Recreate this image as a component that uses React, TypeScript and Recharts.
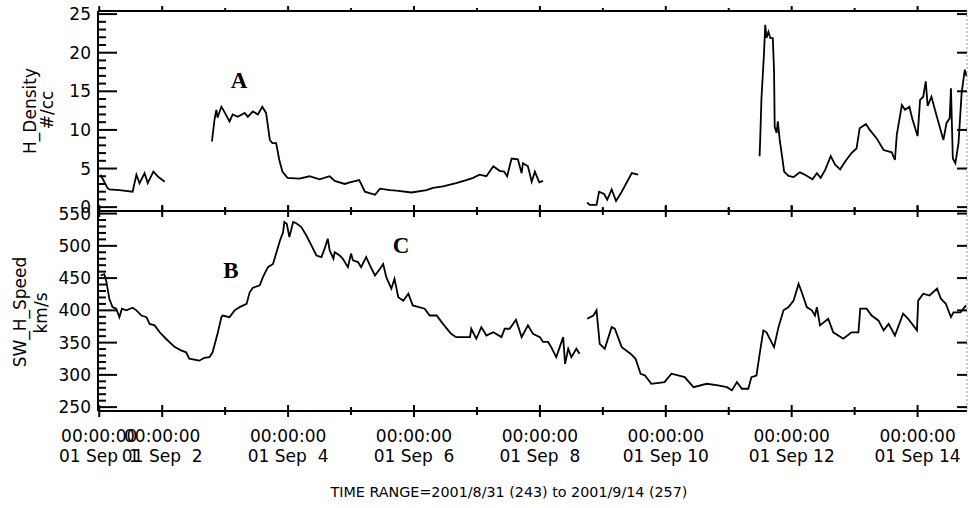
import React from "react";
import { LineChart, Line, XAxis, YAxis } from "recharts";

const FONT = "'DejaVu Sans', sans-serif";

// H_Density (#/cc) as [day of Sep 2001, value]; one array per data run
const densityRun1: [number, number][] = [
  [1.02, 4.2], [1.13, 2.5], [1.16, 2.3], [1.32, 2.2], [1.53, 2.0], [1.59, 4.2],
  [1.64, 3.1], [1.72, 4.4], [1.77, 3.1], [1.86, 4.6], [1.94, 3.9], [2.04, 3.3],
];
const densityRun2: [number, number][] = [
  [2.79, 8.5], [2.83, 11.3], [2.86, 12.6], [2.88, 11.6], [2.94, 13.0], [2.97, 12.6],
  [3.07, 11.1], [3.12, 12.0], [3.2, 11.7], [3.31, 12.2], [3.36, 11.7], [3.44, 12.4],
  [3.52, 12.0], [3.59, 13.0], [3.65, 12.2], [3.71, 8.7], [3.75, 8.3], [3.81, 8.3],
  [3.86, 6.1], [3.91, 4.6], [3.99, 3.8], [4.18, 3.7], [4.34, 4.0], [4.5, 3.6],
  [4.66, 4.0], [4.74, 3.4], [4.9, 3.0], [4.98, 3.2], [5.13, 3.5], [5.22, 2.0],
  [5.38, 1.6], [5.46, 2.4], [5.62, 2.2], [5.72, 2.15], [5.96, 1.9], [6.2, 2.2],
  [6.3, 2.5], [6.46, 2.7], [6.67, 3.1], [6.83, 3.5], [6.94, 3.8], [7.04, 4.2],
  [7.15, 4.0], [7.26, 5.3], [7.36, 4.7], [7.43, 4.6], [7.48, 4.0], [7.55, 6.3],
  [7.65, 6.2], [7.71, 4.4], [7.73, 5.7], [7.81, 5.3], [7.87, 3.3], [7.92, 4.6],
  [7.99, 3.2], [8.05, 3.4],
];
const densityRun3: [number, number][] = [
  [8.75, 0.6], [8.79, 0.3], [8.9, 0.3], [8.94, 2.0], [9.02, 1.7], [9.07, 0.95],
  [9.14, 2.3], [9.21, 0.8], [9.3, 2.0], [9.46, 4.4], [9.56, 4.2],
];
const densityRun4: [number, number][] = [
  [11.49, 6.6], [11.5, 8.9], [11.52, 14.1], [11.56, 19.9], [11.58, 23.6], [11.6, 21.9],
  [11.63, 22.7], [11.66, 21.9], [11.7, 21.9], [11.72, 17.6], [11.73, 10.4], [11.76, 9.6],
  [11.78, 11.1], [11.81, 8.7], [11.84, 7.0], [11.88, 4.6], [11.95, 4.05], [12.03, 3.9],
  [12.13, 4.5], [12.21, 4.2], [12.33, 3.6], [12.4, 4.4], [12.46, 3.8], [12.53, 4.8],
  [12.62, 6.6], [12.69, 5.5], [12.77, 4.9], [12.85, 5.9], [12.95, 7.0], [13.03, 7.6],
  [13.08, 10.2], [13.18, 10.75], [13.24, 10.0], [13.35, 8.9], [13.46, 7.4], [13.59, 7.1],
  [13.64, 6.1], [13.67, 9.4], [13.75, 13.2], [13.8, 12.6], [13.87, 13.0], [13.92, 11.3],
  [14.0, 9.2], [14.04, 13.9], [14.09, 14.3], [14.13, 16.3], [14.16, 13.1], [14.22, 14.3],
  [14.29, 12.2], [14.41, 8.7], [14.46, 10.9], [14.51, 11.5], [14.53, 15.4], [14.56, 6.3],
  [14.6, 5.7], [14.65, 8.3], [14.7, 14.8], [14.75, 17.8], [14.78, 16.9],
];

// SW_H_Speed (km/s)
const speedRun1: [number, number][] = [
  [1.02, 454], [1.08, 456], [1.11, 446], [1.16, 418], [1.21, 405], [1.27, 402.6],
  [1.32, 389.5], [1.36, 402.6], [1.43, 400], [1.53, 404], [1.59, 400], [1.67, 392],
  [1.75, 389.5], [1.8, 379], [1.88, 376.7], [1.96, 366], [2.06, 356], [2.2, 343],
  [2.3, 338], [2.38, 335], [2.43, 325], [2.59, 322], [2.67, 326.5], [2.75, 327.5],
  [2.8, 335], [2.88, 364], [2.94, 389.5], [2.96, 392], [3.07, 389.5], [3.15, 400],
  [3.23, 405], [3.34, 410], [3.39, 428], [3.44, 435], [3.55, 438.7], [3.6, 451.5],
  [3.68, 467], [3.76, 472], [3.81, 488], [3.87, 508], [3.92, 521], [3.94, 537],
  [3.98, 534], [4.02, 513.6], [4.08, 537], [4.13, 535], [4.21, 529], [4.29, 516],
  [4.37, 500.7], [4.45, 485], [4.53, 482.6], [4.58, 495.6], [4.63, 511], [4.66, 493],
  [4.72, 480], [4.74, 490], [4.82, 485], [4.87, 480], [4.95, 467], [5.0, 488],
  [5.03, 477.5], [5.11, 474.8], [5.16, 467], [5.24, 482.6], [5.3, 469.7], [5.38, 454],
  [5.46, 464.6], [5.51, 472], [5.56, 451.5], [5.64, 433.6], [5.69, 449], [5.75, 420.5],
  [5.83, 415], [5.91, 425.8], [5.98, 407.7], [6.17, 402.6], [6.25, 392], [6.36, 392],
  [6.46, 379], [6.59, 363.8], [6.67, 358.5], [6.89, 358.5], [6.91, 371.5], [6.99, 356],
  [7.07, 374], [7.15, 361], [7.26, 366], [7.39, 358.5], [7.44, 371.5], [7.52, 371.5],
  [7.62, 385.5], [7.71, 358.5], [7.81, 376.7], [7.89, 363.8], [8.0, 358.5], [8.05, 351],
  [8.13, 351], [8.18, 343], [8.26, 327.5], [8.37, 358.5], [8.4, 317], [8.45, 340.5],
  [8.5, 327.5], [8.58, 340.5], [8.63, 332.8],
];
const speedRun2: [number, number][] = [
  [8.75, 387], [8.85, 392], [8.9, 400], [8.95, 348], [9.03, 340.5], [9.14, 374],
  [9.19, 371.5], [9.3, 343], [9.44, 332.8], [9.52, 325], [9.6, 301.8], [9.67, 299],
  [9.77, 286.2], [9.98, 288.8], [10.09, 301.8], [10.3, 296.5], [10.44, 281], [10.65, 286.2],
  [10.83, 283.6], [10.97, 281], [11.05, 276], [11.13, 288.8], [11.21, 278.5], [11.31, 278.5],
  [11.36, 296.5], [11.44, 299], [11.5, 338], [11.55, 369], [11.6, 366], [11.72, 343],
  [11.79, 374], [11.87, 400], [11.95, 405], [12.03, 415], [12.11, 441], [12.16, 428],
  [12.24, 405], [12.32, 400], [12.37, 392], [12.4, 405], [12.45, 376.7], [12.58, 387],
  [12.66, 366], [12.82, 356], [12.95, 366], [13.06, 366], [13.09, 402.6], [13.19, 402.6],
  [13.27, 392], [13.38, 384], [13.46, 369], [13.54, 379], [13.64, 361], [13.77, 394.8],
  [13.85, 387], [13.99, 369], [14.01, 415], [14.09, 425.8], [14.19, 423], [14.31, 433.6],
  [14.37, 418], [14.45, 410], [14.53, 389.5], [14.57, 397], [14.68, 397], [14.77, 407.7],
];

const dayTicks = [1, 2, 3, 4, 5, 6, 7, 8, 9, 10, 11, 12, 13, 14];
const labelledDays = [1, 2, 4, 6, 8, 10, 12, 14];
const densityTicks = [
  0, 1, 2, 3, 4, 5, 6, 7, 8, 9, 10, 11, 12, 13, 14, 15, 16, 17, 18, 19, 20, 21, 22, 23, 24, 25,
];
const densityLabels = [0, 5, 10, 15, 20, 25];
const speedTicks = [
  250, 260, 270, 280, 290, 300, 310, 320, 330, 340, 350, 360, 370, 380, 390, 400,
  410, 420, 430, 440, 450, 460, 470, 480, 490, 500, 510, 520, 530, 540, 550,
];
const speedLabels = [250, 300, 350, 400, 450, 500, 550];

const dayDomain = [0.98, 14.785];

// join runs with a null point so the line breaks at data gaps
function joinRuns(runs: [number, number][][]) {
  const out: { t: number; v: number | null }[] = [];
  runs.forEach((run, i) => {
    if (i > 0) out.push({ t: (runs[i - 1][runs[i - 1].length - 1][0] + run[0][0]) / 2, v: null });
    run.forEach(([t, v]) => out.push({ t, v }));
  });
  return out;
}

const densityData = joinRuns([densityRun1, densityRun2, densityRun3, densityRun4]);
const speedData = joinRuns([speedRun1, speedRun2]);

const txt = { fontFamily: FONT, fontSize: 17, fill: "#000" };

const leftTick = (labels: number[]) => (props: any) => {
  const { x, y, payload } = props;
  const major = labels.includes(payload.value);
  return (
    <g>
      <line x1={x} x2={x + (major ? 19 : 8)} y1={y} y2={y} stroke="#000" strokeWidth={2} />
      {major && (
        <text x={x - 7} y={y} dy={6} textAnchor="end" {...txt}>
          {payload.value}
        </text>
      )}
    </g>
  );
};

const rightTick = (props: any) => {
  const { x, y } = props;
  return <line x1={x - 10} x2={x} y1={y} y2={y} stroke="#000" strokeWidth={2} />;
};

const topTick = (props: any) => {
  const { x, y, payload } = props;
  const h = labelledDays.includes(payload.value) ? 5 : 3;
  return <line x1={x} x2={x} y1={y - h} y2={y} stroke="#000" strokeWidth={2} />;
};

const crossTick = (props: any) => {
  const { x, y, payload } = props;
  const h = labelledDays.includes(payload.value) ? 6 : 4;
  return <line x1={x} x2={x} y1={y - h} y2={y + h} stroke="#000" strokeWidth={2} />;
};

const bottomTick = (props: any) => {
  const { x, y, payload } = props;
  const d = payload.value;
  const major = labelledDays.includes(d);
  const h = major ? 6 : 4;
  return (
    <g>
      <line x1={x} x2={x} y1={y - h} y2={y + h} stroke="#000" strokeWidth={2} />
      {major && (
        <text x={x} y={y + 31} textAnchor="middle" {...txt}>
          00:00:00
        </text>
      )}
      {major && (
        <text x={x} y={y + 51} textAnchor="middle" {...txt} style={{ whiteSpace: "pre" }}>
          {`01 Sep ${String(d).padStart(2, " ")}`}
        </text>
      )}
    </g>
  );
};

const axisLine = { stroke: "#000", strokeWidth: 2 };
const dashedLine = { stroke: "#999", strokeWidth: 1, strokeDasharray: "2 2" };

function Panel({
  data,
  domain,
  ticks,
  labels,
  bottom,
  height,
  marginBottom,
}: {
  data: { t: number; v: number | null }[];
  domain: number[];
  ticks: number[];
  labels: number[];
  bottom: (p: any) => React.ReactElement;
  height: number;
  marginBottom: number;
}) {
  return (
    <LineChart
      width={969}
      height={height}
      data={data}
      margin={{ top: 10, right: 0, bottom: marginBottom, left: 0 }}
      style={{ overflow: "visible" }}
    >
      <XAxis
        xAxisId="top"
        orientation="top"
        dataKey="t"
        type="number"
        domain={dayDomain}
        ticks={dayTicks}
        interval={0}
        height={1}
        tickSize={0}
        tickMargin={0}
        tickLine={false}
        axisLine={axisLine}
        tick={topTick}
        allowDataOverflow
      />
      <XAxis
        xAxisId="bottom"
        orientation="bottom"
        dataKey="t"
        type="number"
        domain={dayDomain}
        ticks={dayTicks}
        interval={0}
        height={1}
        tickSize={0}
        tickMargin={0}
        tickLine={false}
        axisLine={axisLine}
        tick={bottom}
        allowDataOverflow
      />
      <YAxis
        yAxisId="left"
        orientation="left"
        type="number"
        width={98}
        domain={domain}
        ticks={ticks}
        interval={0}
        tickSize={0}
        tickMargin={0}
        tickLine={false}
        axisLine={axisLine}
        tick={leftTick(labels)}
        allowDataOverflow
      />
      <YAxis
        yAxisId="right"
        orientation="right"
        type="number"
        width={2}
        domain={domain}
        ticks={labels}
        interval={0}
        tickSize={0}
        tickMargin={0}
        tickLine={false}
        axisLine={dashedLine}
        tick={rightTick}
        allowDataOverflow
      />
      <Line
        xAxisId="bottom"
        yAxisId="left"
        dataKey="v"
        type="linear"
        stroke="#000"
        strokeWidth={1.8}
        dot={false}
        activeDot={false}
        connectNulls={false}
        isAnimationActive={false}
      />
    </LineChart>
  );
}

export default function App() {
  return (
    <div style={{ position: "absolute", left: 0, top: 0, width: 969, height: 508, background: "#fff" }}>
      <div style={{ position: "absolute", left: 0, top: 0 }}>
        <Panel
          data={densityData}
          domain={[-0.5, 25.4]}
          ticks={densityTicks}
          labels={densityLabels}
          bottom={crossTick}
          height={225}
          marginBottom={13}
        />
      </div>
      <div style={{ position: "absolute", left: 0, top: 200 }}>
        <Panel
          data={speedData}
          domain={[244, 554]}
          ticks={speedTicks}
          labels={speedLabels}
          bottom={bottomTick}
          height={300}
          marginBottom={88}
        />
      </div>
      <svg
        width={969}
        height={508}
        style={{ position: "absolute", left: 0, top: 0, pointerEvents: "none" }}
      >
        <g fontFamily={FONT} fontSize={17} fill="#000">
          <text transform="translate(30,111) rotate(-90)" textAnchor="middle" dy={6}>
            H_Density
          </text>
          <text transform="translate(47,110) rotate(-90)" textAnchor="middle" dy={6}>
            #/cc
          </text>
          <text transform="translate(20,312) rotate(-90)" textAnchor="middle" dy={6}>
            SW_H_Speed
          </text>
          <text transform="translate(41,313) rotate(-90)" textAnchor="middle" dy={6}>
            km/s
          </text>
        </g>
        <g fontFamily="'Liberation Serif', serif" fontWeight="bold" fontSize={23} fill="#000">
          <text x={239} y={88} textAnchor="middle">A</text>
          <text x={231} y={278} textAnchor="middle">B</text>
          <text x={401} y={253} textAnchor="middle">C</text>
        </g>
        <text x={509} y={497} textAnchor="middle" fontFamily={FONT} fontSize={14.3} fill="#000">
          TIME RANGE=2001/8/31 (243) to 2001/9/14 (257)
        </text>
      </svg>
    </div>
  );
}
